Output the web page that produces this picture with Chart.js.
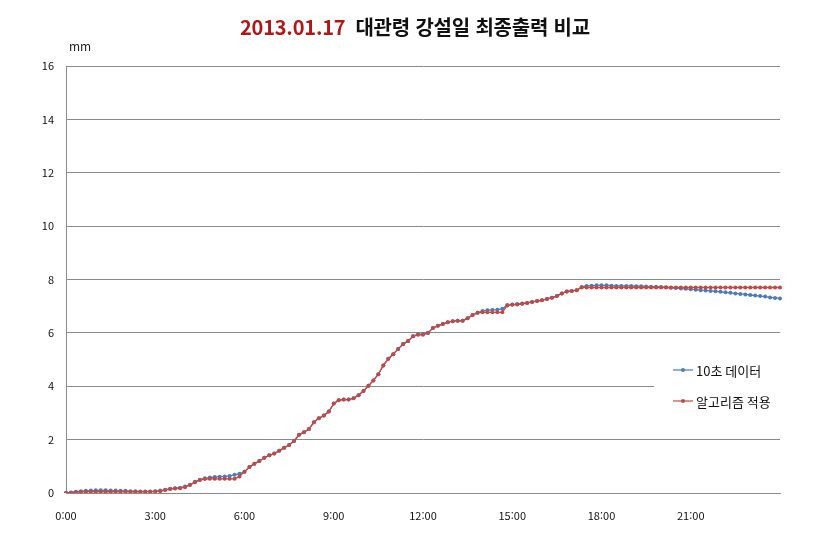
<!DOCTYPE html>
<html lang="ko">
<head>
<meta charset="utf-8">
<title>대관령 강설일 최종출력 비교</title>
<script src="https://cdn.jsdelivr.net/npm/chart.js@4.4.1/dist/chart.umd.min.js"></script>
<style>
  html, body { margin: 0; padding: 0; background: #fff; }
  #wrap { position: relative; width: 830px; height: 543px; }
  #title {
    position: absolute; left: 0; top: 12px; width: 830px; text-align: center;
    font-family: "Noto Sans CJK KR", "Noto Sans", sans-serif; font-weight: bold;
    font-size: 20px; color: #111; letter-spacing: -0.2px;
  }
  #title .date { color: #b01818; margin-right: 10px; }
</style>
</head>
<body>
<div id="wrap">
  <div id="title"><span class="date">2013.01.17</span>대관령 강설일 최종출력 비교</div>
  <canvas id="mainChart" width="830" height="543"></canvas>
</div>
<script>
// 시간 축 (10분 간격, 0:00 ~ 24:00)
const timeLabels = [];
for (let m = 0; m <= 24 * 60; m += 10) {
  timeLabels.push(Math.floor(m / 60) + ":" + String(m % 60).padStart(2, "0"));
}
const shownTicks = ["0:00", "3:00", "6:00", "9:00", "12:00", "15:00", "18:00", "21:00"];

const seriesNames = ["10초 데이터", "알고리즘 적용"];

// 10초 데이터 (mm)
const rawData = [
  0, 0.02, 0.05, 0.07, 0.08, 0.09, 0.1, 0.1, 0.1, 0.09,
  0.09, 0.08, 0.08, 0.07, 0.07, 0.06, 0.06, 0.06, 0.07, 0.09,
  0.12, 0.16, 0.18, 0.2, 0.24, 0.31, 0.42, 0.5, 0.55, 0.58,
  0.6, 0.61, 0.62, 0.64, 0.68, 0.72, 0.8, 0.97, 1.1, 1.2,
  1.32, 1.41, 1.48, 1.58, 1.7, 1.8, 1.95, 2.18, 2.28, 2.4,
  2.65, 2.8, 2.9, 3.05, 3.35, 3.48, 3.5, 3.5, 3.55, 3.66,
  3.82, 4.02, 4.22, 4.45, 4.78, 5.03, 5.2, 5.4, 5.58, 5.7,
  5.87, 5.95, 5.96, 6.0, 6.18, 6.27, 6.33, 6.4, 6.44, 6.45,
  6.45, 6.55, 6.67, 6.75, 6.82, 6.85, 6.86, 6.87, 6.9, 7.04,
  7.06, 7.08, 7.1, 7.12, 7.16, 7.19, 7.22, 7.27, 7.32, 7.38,
  7.48, 7.55, 7.57, 7.6, 7.72, 7.76, 7.77, 7.78, 7.78, 7.78,
  7.77, 7.76, 7.76, 7.76, 7.76, 7.75, 7.75, 7.74, 7.73, 7.73,
  7.72, 7.71, 7.69, 7.68, 7.66, 7.65, 7.63, 7.62, 7.6, 7.59,
  7.57, 7.56, 7.54, 7.52, 7.5, 7.48, 7.46, 7.44, 7.42, 7.4,
  7.38, 7.36, 7.33, 7.31, 7.29
];

// 알고리즘 적용 (mm)
const algoData = [
  0, 0.01, 0.03, 0.04, 0.05, 0.05, 0.05, 0.05, 0.05, 0.05,
  0.05, 0.05, 0.05, 0.05, 0.05, 0.05, 0.05, 0.05, 0.06, 0.07,
  0.11, 0.15, 0.17, 0.18, 0.22, 0.3, 0.4, 0.49, 0.52, 0.53,
  0.53, 0.53, 0.53, 0.53, 0.53, 0.62, 0.8, 0.97, 1.1, 1.2,
  1.32, 1.41, 1.48, 1.58, 1.7, 1.8, 1.95, 2.18, 2.28, 2.4,
  2.65, 2.8, 2.9, 3.05, 3.35, 3.48, 3.5, 3.5, 3.55, 3.66,
  3.82, 4.02, 4.22, 4.45, 4.78, 5.03, 5.2, 5.4, 5.58, 5.7,
  5.87, 5.93, 5.93, 6.0, 6.18, 6.27, 6.33, 6.4, 6.44, 6.45,
  6.45, 6.55, 6.67, 6.75, 6.77, 6.77, 6.77, 6.77, 6.77, 7.03,
  7.05, 7.06, 7.09, 7.12, 7.16, 7.19, 7.22, 7.27, 7.32, 7.38,
  7.48, 7.55, 7.57, 7.6, 7.7, 7.7, 7.7, 7.7, 7.7, 7.7,
  7.7, 7.7, 7.7, 7.7, 7.7, 7.7, 7.7, 7.7, 7.7, 7.7,
  7.7, 7.7, 7.7, 7.7, 7.7, 7.7, 7.7, 7.7, 7.7, 7.7,
  7.7, 7.7, 7.7, 7.7, 7.7, 7.7, 7.7, 7.7, 7.7, 7.7,
  7.7, 7.7, 7.7, 7.7, 7.7
];

const BLUE = "#4a7ebb";
const RED = "#be4b48";
const GRID = "#8a8a8a";
const FONT = "'Noto Sans CJK KR', 'Noto Sans', sans-serif";

class ChartManager {
  constructor() {
    this.canvas = document.getElementById("mainChart");
    this.init();
  }

  init() {
    Chart.defaults.font.family = FONT;
    Chart.defaults.color = "#111";
    this.drawChart();
  }

  // 단위 표시 + 범례 (엑셀 스타일, 그래프 안쪽 오른편)
  extrasPlugin() {
    return {
      id: "extras",
      afterDraw(chart) {
        const ctx = chart.ctx;
        ctx.save();
        ctx.font = "12px " + FONT;
        ctx.fillStyle = "#222";
        ctx.textBaseline = "middle";
        ctx.textAlign = "left";
        ctx.fillText("mm", 69, 46);

        // 범례 배경
        ctx.fillStyle = "#fff";
        ctx.fillRect(654, 352, 150, 66);

        const rows = [
          { y: 370, ds: chart.data.datasets[0] },
          { y: 401, ds: chart.data.datasets[1] },
        ];
        rows.forEach((r) => {
          ctx.strokeStyle = r.ds.borderColor;
          ctx.lineWidth = 1.2;
          ctx.beginPath();
          ctx.moveTo(673, r.y);
          ctx.lineTo(693, r.y);
          ctx.stroke();
          ctx.fillStyle = r.ds.borderColor;
          ctx.beginPath();
          ctx.arc(683, r.y, 2, 0, Math.PI * 2);
          ctx.fill();
          ctx.fillStyle = "#111";
          ctx.font = "13px " + FONT;
          ctx.fillText(r.ds.label, 696, r.y + 1);
        });
        ctx.restore();
      },
    };
  }

  drawChart() {
    new Chart(this.canvas.getContext("2d"), {
      type: "line",
      data: {
        labels: timeLabels,
        datasets: [
          {
            label: seriesNames[0],
            data: rawData,
            borderColor: BLUE,
            backgroundColor: BLUE,
            borderWidth: 1.3,
            pointRadius: 2,
            pointBorderWidth: 0,
            order: 2,
          },
          {
            label: seriesNames[1],
            data: algoData,
            borderColor: RED,
            backgroundColor: RED,
            borderWidth: 1.3,
            pointRadius: 2,
            pointBorderWidth: 0,
            order: 1,
          },
        ],
      },
      options: {
        responsive: false,
        animation: false,
        layout: { padding: { top: 66, right: 50, left: 0, bottom: 0 } },
        plugins: {
          legend: { display: false },
          tooltip: { enabled: false },
          title: { display: false },
        },
        scales: {
          x: {
            offset: false,
            grid: { display: false },
            border: { display: true, color: GRID, width: 1 },
            ticks: {
              autoSkip: false,
              maxRotation: 0,
              font: { size: 11 },
              color: "#111",
              padding: 8,
              callback: function (value) {
                const lab = this.getLabelForValue(value);
                return shownTicks.includes(lab) ? lab : null;
              },
            },
            afterFit: (s) => { s.height = 50; },
          },
          y: {
            min: 0,
            max: 16,
            grid: { color: GRID, lineWidth: 1, drawTicks: false },
            border: { display: true, color: GRID, width: 1 },
            ticks: { stepSize: 2, font: { size: 11 }, color: "#111", padding: 12 },
            afterFit: (s) => { s.width = 66; },
          },
        },
      },
      plugins: [this.extrasPlugin()],
    });
  }
}

window.chartManager = new ChartManager();
</script>
</body>
</html>
